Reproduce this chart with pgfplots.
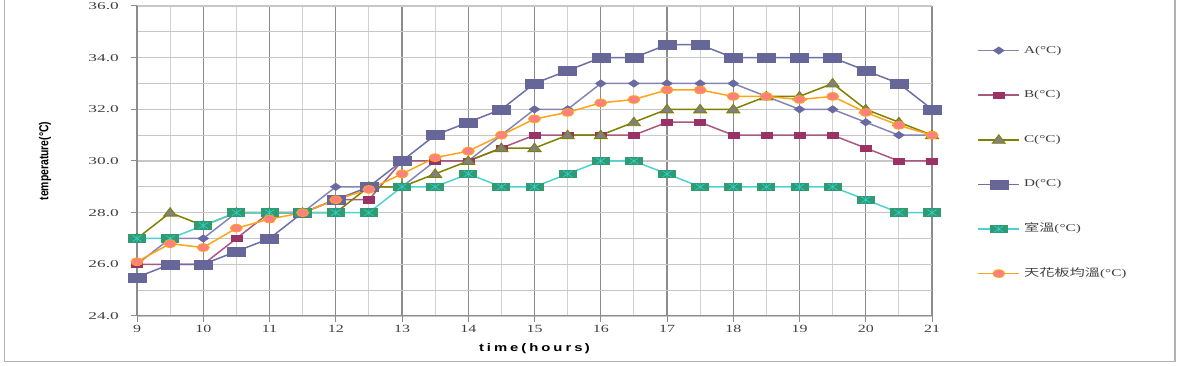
\documentclass[border=0pt]{standalone}
\usepackage{pgfplots}
\pgfplotsset{compat=1.18}
\usepackage{pgfplotstable}
\usepackage{graphicx}
\usepackage{fontspec}
\setmainfont{Liberation Serif}
\newfontfamily\labfont{Liberation Sans}
\newfontfamily\xlabfont[LetterSpace=20]{Liberation Sans}
\newfontfamily\cjk{Noto Sans CJK TC}

\definecolor{cAline}{HTML}{8585B5}
\definecolor{cAmark}{HTML}{6A6AA2}
\definecolor{cBline}{HTML}{A9587E}
\definecolor{cBmark}{HTML}{993366}
\definecolor{cCline}{HTML}{808000}
\definecolor{cCmark}{HTML}{808080}
\definecolor{cDline}{HTML}{6E6EA6}
\definecolor{cDmark}{HTML}{666699}
\definecolor{cGline}{HTML}{4DD2D2}
\definecolor{cGmark}{HTML}{2E9B72}
\definecolor{cGast}{HTML}{33CCCC}
\definecolor{cOline}{HTML}{FFA31A}
\definecolor{cOmark}{HTML}{FF8080}
\definecolor{txt}{HTML}{404040}

\pgfdeclareplotmark{wdiamond}{%
  \pgfpathmoveto{\pgfqpoint{5.5pt}{0pt}}%
  \pgfpathlineto{\pgfqpoint{0pt}{3.8pt}}%
  \pgfpathlineto{\pgfqpoint{-5.5pt}{0pt}}%
  \pgfpathlineto{\pgfqpoint{0pt}{-3.8pt}}%
  \pgfpathclose
  \pgfusepathqfillstroke}
\pgfdeclareplotmark{smrect}{%
  \pgfpathrectangle{\pgfqpoint{-5.5pt}{-3.2pt}}{\pgfqpoint{11pt}{6.4pt}}%
  \pgfusepathqfillstroke}
\pgfdeclareplotmark{bigrect}{%
  \pgfpathrectangle{\pgfqpoint{-9pt}{-4.5pt}}{\pgfqpoint{18pt}{9pt}}%
  \pgfusepathqfillstroke}
\pgfdeclareplotmark{wtri}{%
  \pgfpathmoveto{\pgfqpoint{0pt}{5pt}}%
  \pgfpathlineto{\pgfqpoint{6.5pt}{-3.5pt}}%
  \pgfpathlineto{\pgfqpoint{-6.5pt}{-3.5pt}}%
  \pgfpathclose
  \pgfusepathqfillstroke}
\pgfdeclareplotmark{wellipse}{%
  \pgfpathellipse{\pgfpointorigin}{\pgfqpoint{6pt}{0pt}}{\pgfqpoint{0pt}{3.8pt}}%
  \pgfusepathqfillstroke}
\pgfdeclareplotmark{sqast}{%
  \pgfpathrectangle{\pgfqpoint{-9pt}{-4.2pt}}{\pgfqpoint{18pt}{8.4pt}}%
  \pgfsetfillcolor{cGmark}\pgfusepathqfill
  \pgfsetstrokecolor{cGast}\pgfsetlinewidth{0.7pt}%
  \pgfpathmoveto{\pgfqpoint{0pt}{-3.4pt}}\pgfpathlineto{\pgfqpoint{0pt}{3.4pt}}%
  \pgfpathmoveto{\pgfqpoint{-4.5pt}{-3pt}}\pgfpathlineto{\pgfqpoint{4.5pt}{3pt}}%
  \pgfpathmoveto{\pgfqpoint{-4.5pt}{3pt}}\pgfpathlineto{\pgfqpoint{4.5pt}{-3pt}}%
  \pgfusepathqstroke}

\pgfplotstableread{
t    A     B     C     D     R     O
9    26    26    27    25.5  27    26.1
9.5  27    26    28    26    27    26.8
10   27    26    27.5  26    27.5  26.65
10.5 28    27    28    26.5  28    27.4
11   28    28    28    27    28    27.75
11.5 28    28    28    28    28    28
12   29    28.5  28    28.5  28    28.5
12.5 29    28.5  29    29    28    28.9
13   29    30    29    30    29    29.5
13.5 30    30    29.5  31    29    30.13
14   30    30    30    31.5  29.5  30.38
14.5 31    30.5  30.5  32    29    31
15   32    31    30.5  33    29    31.63
15.5 32    31    31    33.5  29.5  31.88
16   33    31    31    34    30    32.25
16.5 33    31    31.5  34    30    32.38
17   33    31.5  32    34.5  29.5  32.75
17.5 33    31.5  32    34.5  29    32.75
18   33    31    32    34    29    32.5
18.5 32.5  31    32.5  34    29    32.5
19   32    31    32.5  34    29    32.38
19.5 32    31    33    34    29    32.5
20   31.5  30.5  32    33.5  28.5  31.88
20.5 31    30    31.5  33    28    31.38
21   31    30    31    32    28    31
}\datatable

\begin{document}
\begin{tikzpicture}
\useasboundingbox (0,0) rectangle (1188pt,366pt);
\draw[gray!60, line width=1.2pt] (4.5pt,366pt) -- (4.5pt,4.5pt) -- (1175pt,4.5pt) -- (1175pt,366pt);
\begin{axis}[
  at={(137pt,50pt)}, anchor=south west,
  scale only axis, width=795pt, height=310pt,
  xmin=9, xmax=21, ymin=24, ymax=36,
  xtick={9,...,21}, minor xtick={9.5,10.5,...,20.5},
  ytick={24,26,...,36}, minor ytick={25,27,...,35},
  grid=both,
  major x grid style={draw=black!45, line width=1.1pt},
  minor x grid style={draw=black!18, line width=1.1pt},
  major y grid style={draw=black!22, line width=1.1pt},
  minor y grid style={draw=black!22, line width=1.1pt},
  axis x line*=bottom, axis y line*=left,
  axis line style={draw=black!45, line width=1pt},
  tick style={draw=black!45, line width=1pt},
  major tick length=6pt, minor tick length=0pt, tick align=outside,
  /pgf/number format/assume math mode=true,
  xticklabel style={font=\fontsize{11}{12}\selectfont, text=txt},
  yticklabel=\empty,
  yticklabel style={text opacity=0},
  xticklabel={\raisebox{-4pt}{\scalebox{1.45}[1]{\pgfmathprintnumber{\tick}}}},
  xlabel={\scalebox{1.35}[1]{\xlabfont\bfseries time(hours\,)}},
  xlabel style={at={(axis description cs:0.5,-0.1065)}, anchor=center, font=\fontsize{11}{13}\selectfont},
  ylabel={\scalebox{0.8}[1]{\labfont\bfseries temperature(°C)}},
  ylabel style={at={(axis description cs:-0.1157,0.5)}, anchor=center, font=\fontsize{13}{14}\selectfont},
  clip=false,
  legend cell align=left,
  legend image code/.code={\draw[mark repeat=2,mark phase=2] plot coordinates {(0pt,0pt) (20.5pt,0pt) (41pt,0pt)};},
  legend style={at={(axis description cs:1.057,0.881)}, anchor=north west, draw=none, fill=none,
    row sep=29.6pt, column sep=2pt, inner sep=0pt,
    nodes={inner sep=2pt, text height=8pt, text depth=3pt},
    font=\fontsize{10.5}{12}\selectfont, text=txt},
]
\addplot[cAline, line width=1.5pt, mark=wdiamond, mark options={fill=cAmark, draw=cAmark, line width=0.4pt}] table[x=t,y=A]{\datatable};
\addlegendentry{\scalebox{1.45}[1]{A(°C)}}
\addplot[cBline, line width=1.5pt, mark=smrect, mark options={fill=cBmark, draw=cBmark, line width=0.4pt}] table[x=t,y=B]{\datatable};
\addlegendentry{\scalebox{1.45}[1]{B(°C)}}
\addplot[cCline, line width=1.5pt, mark=wtri, mark options={fill=cCmark, draw=cCline, line width=0.9pt}] table[x=t,y=C]{\datatable};
\addlegendentry{\scalebox{1.45}[1]{C(°C)}}
\addplot[cDline, line width=1.5pt, mark=bigrect, mark options={fill=cDmark, draw=cDmark, line width=0.4pt}] table[x=t,y=D]{\datatable};
\addlegendentry{\scalebox{1.45}[1]{D(°C)}}
\addplot[cGline, line width=1.5pt, mark=sqast] table[x=t,y=R]{\datatable};
\addlegendentry{\scalebox{1.45}[1]{{\cjk 室溫}(°C)}}
\addplot[cOline, line width=1.5pt, mark=wellipse, mark options={fill=cOmark, draw=cOline, line width=0.9pt}] table[x=t,y=O]{\datatable};
\addlegendentry{\scalebox{1.45}[1]{{\cjk 天花板均溫}(°C)}}
\pgfplotsinvokeforeach{24,26,28,30,32,34,36}{
  \node[anchor=east, inner sep=0pt, xshift=-18pt, text=txt, font=\fontsize{10.5}{12}\selectfont]
    at (axis cs:9,#1) {\scalebox{1.65}[1]{\pgfmathprintnumber[fixed,fixed zerofill,precision=1]{#1}}};
}
\end{axis}
\end{tikzpicture}
\end{document}
